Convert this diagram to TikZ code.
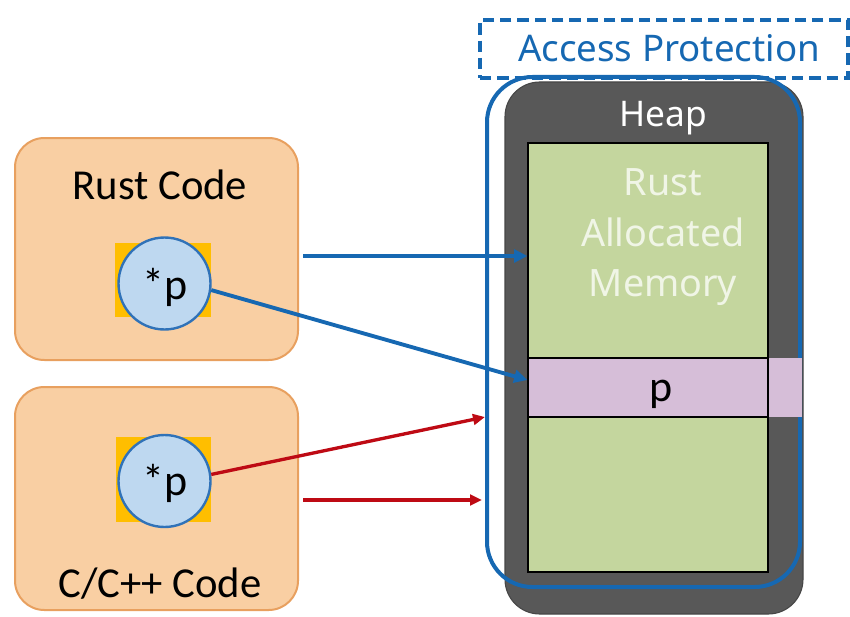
\documentclass[tikz,border=0pt]{standalone}
\usepackage{fontspec}
\setmainfont{Carlito}
\newfontfamily\uifont{Noto Sans}
\usetikzlibrary{fit,arrows.meta}
\definecolor{protblue}{RGB}{22,104,178}
\definecolor{ptrred}{RGB}{190,10,20}
\definecolor{heapgray}{RGB}{88,88,88}
\definecolor{memgreen}{RGB}{196,214,158}
\definecolor{slotpurple}{RGB}{214,190,216}
\definecolor{codefill}{RGB}{249,207,163}
\definecolor{codeedge}{RGB}{232,160,95}
\definecolor{ptrfill}{RGB}{190,216,240}
\definecolor{ptredge}{RGB}{48,114,184}
\definecolor{ptrback}{RGB}{255,190,0}
\definecolor{memtext}{RGB}{240,245,230}
\tikzset{
  codebox/.style={fit={#1}, inner sep=0pt, draw=codeedge, line width=1.5pt, fill=codefill, rounded corners=22pt},
  ptrback/.style={fit={#1}, inner sep=0pt, fill=ptrback},
  ptrnode/.style={circle, draw=ptredge, line width=1.8pt, fill=ptrfill, minimum size=69pt, inner sep=0pt},
  ptrtext/.style={anchor=base, font=\fontsize{33}{38}\selectfont, inner sep=0pt},
  memcell/.style={fit={#1}, inner sep=0pt, draw=black, line width=0.8pt, fill=memgreen},
  bigtext/.style={font=\fontsize{32}{38}\selectfont},
  uitext/.style={font=\uifont\fontsize{#1}{37.5}\selectfont},
  bluearrow/.style={draw=protblue, line width=2.9pt, -{Triangle[length=10pt,width=9.5pt]}},
  redarrow/.style={draw=ptrred, line width=2.5pt, -{Triangle[length=9pt,width=8pt]}},
}
\begin{document}
\begin{tikzpicture}[x=0.75pt,y=-0.75pt]
\useasboundingbox (0,0) rectangle (850,617);

% access protection label
\node[fit={(480,20) (848,78)}, inner sep=0pt, draw=protblue, line width=2.6pt,
      dash pattern=on 8.5pt off 4.5pt] (aplabel) {};
\node[uitext=27.5, text=protblue] at (669,48) {Access Protection};

% heap container
\node[fit={(505,82) (803,614)}, inner sep=0pt, fill=heapgray, draw=heapgray!80!black,
      line width=0.8pt, rounded corners=26pt] (heap) {};
\node[uitext=26.5, text=white, anchor=base] at (663,127) {Heap};

% heap contents
\node[memcell={(528,143) (768,358)}] (mem) {};
\node[uitext=28.3, text=memtext, align=center, anchor=base] at (663,195) {Rust};
\node[uitext=28.3, text=memtext, align=center, anchor=base] at (663,246) {Allocated};
\node[uitext=28.3, text=memtext, align=center, anchor=base] at (663,296) {Memory};
\node[memcell={(528,417) (768,572)}] (low) {};

% protection boundary
\node[fit={(487,77) (800,587)}, inner sep=0pt, draw=protblue, line width=3pt,
      rounded corners=34pt] (prot) {};

% the slot holding p
\fill[slotpurple] (768,358) rectangle (802,417);
\node[memcell={(528,358) (768,417)}, fill=slotpurple] (slot) {};
\node[ptrtext] at (661,401) {p};

% rust side
\node[codebox={(15,138) (298,360)}] (rust) {};
\node[bigtext] at (160,185) {Rust Code};
\node[ptrback={(115,243) (211,317)}] (rback) {};
\node[ptrnode] (rptr) at (164.5,283.5) {};
\node[ptrtext] at (165,299) {*p};

% C/C++ side
\node[codebox={(15,387) (298,610)}] (cc) {};
\node[bigtext] at (160,584) {C/C++ Code};
\node[ptrback={(116,437) (211,522)}] (cback) {};
\node[ptrnode] (cptr) at (164.5,481) {};
\node[ptrtext] at (165,495) {*p};

% references into the heap
\coordinate (redend) at (482,500);
\draw[bluearrow] (rust.east |- 0,256) ++(4,0) -- (mem.west |- 0,256);
\draw[bluearrow] (rptr.-8) -- (slot.west |- 0,380);
\draw[redarrow] (cptr.8) -- (prot.west |- 0,417);
\draw[redarrow] (cc.east |- redend) ++(4,0) -- (redend);
\end{tikzpicture}
\end{document}
